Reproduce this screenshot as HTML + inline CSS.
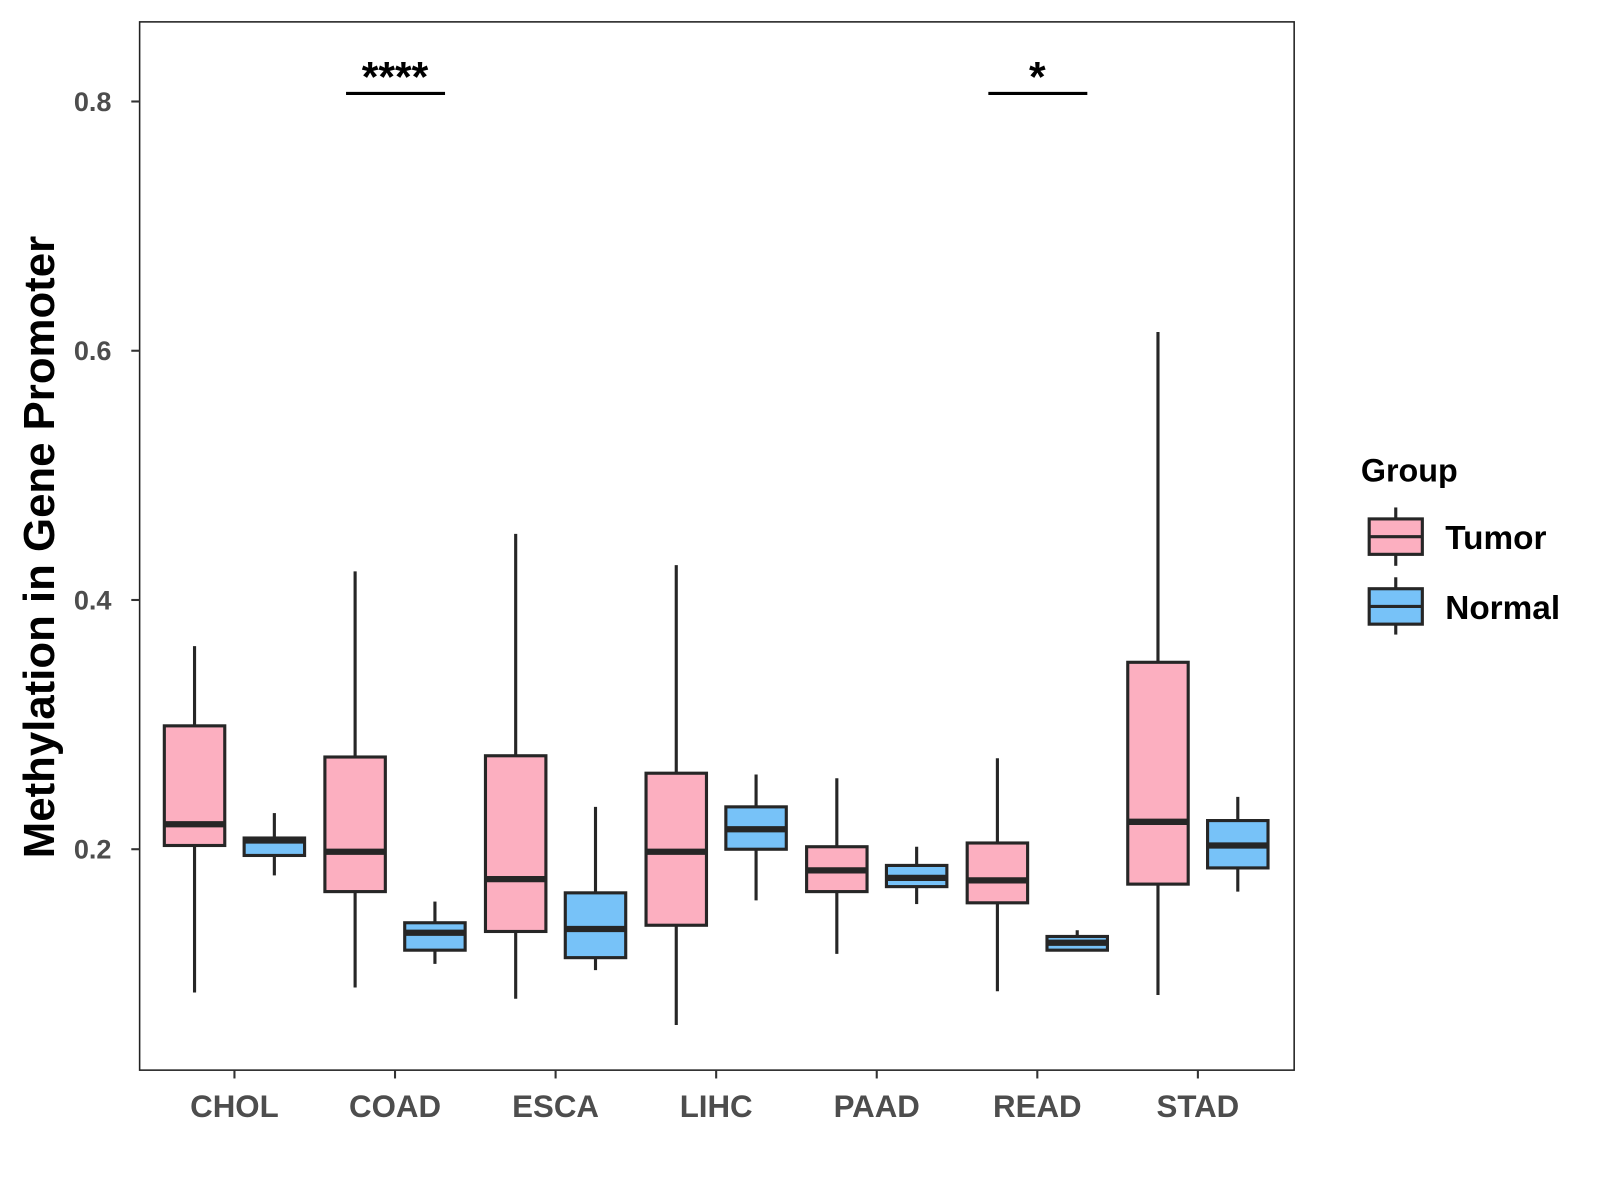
<!DOCTYPE html>
<html><head><meta charset="utf-8"><style>
html,body{margin:0;padding:0;background:#fff;width:1600px;height:1200px;overflow:hidden}
text{font-family:"Liberation Sans",Arial,sans-serif;font-weight:bold}
</style></head><body>
<svg id="chart" width="1600" height="1200" xmlns="http://www.w3.org/2000/svg">
<rect width="1600" height="1200" fill="#fff"/>
<g transform="scale(1.042)">
<g id="plot"></g>
<text transform="translate(52,525) rotate(-90)" text-anchor="middle" font-size="42" fill="#000">Methylation in Gene Promoter</text>
<g>
<text x="1306" y="462" font-size="31" fill="#000">Group</text>
<g>
<line x1="1339.5" x2="1339.5" y1="487" y2="543" stroke="#262626" stroke-width="3"/>
<rect x="1314" y="498" width="51" height="34" fill="#FCAFC0" stroke="#262626" stroke-width="3"/>
<line x1="1314" x2="1365" y1="515" y2="515" stroke="#262626" stroke-width="3"/>
<text x="1387" y="527" font-size="32" fill="#000">Tumor</text>
</g>
<g>
<line x1="1339.5" x2="1339.5" y1="554" y2="609" stroke="#262626" stroke-width="3"/>
<rect x="1314" y="565" width="51" height="34" fill="#77C2F8" stroke="#262626" stroke-width="3"/>
<line x1="1314" x2="1365" y1="582" y2="582" stroke="#262626" stroke-width="3"/>
<text x="1387" y="594" font-size="32" fill="#000">Normal</text>
</g>
</g>
</g>
</svg>
<script>
const categories=["CHOL","COAD","ESCA","LIHC","PAAD","READ","STAD"];
// [low, q1, median, q3, high]
const tumorStats=[[0.085,0.203,0.220,0.299,0.363],[0.089,0.166,0.198,0.274,0.423],[0.080,0.134,0.176,0.275,0.453],[0.059,0.139,0.198,0.261,0.428],[0.116,0.166,0.183,0.202,0.257],[0.086,0.157,0.175,0.205,0.273],[0.083,0.172,0.222,0.350,0.615]];
const normalStats=[[0.179,0.195,0.207,0.209,0.229],[0.108,0.119,0.133,0.141,0.158],[0.103,0.113,0.136,0.165,0.234],[0.159,0.200,0.216,0.234,0.260],[0.156,0.170,0.177,0.187,0.202],[0.119,0.119,0.125,0.130,0.135],[0.166,0.185,0.203,0.223,0.242]];
const yTicks=[0.2,0.4,0.6,0.8];
const yTickLabels=["0.2","0.4","0.6","0.8"];
const sigCategories=["COAD","READ"];
const sigLabels=["****","*"];
const sigLevel=0.8065;

const NS="http://www.w3.org/2000/svg";
const g=document.getElementById('plot');
const L=134,R=1242,T=21,B=1027;
function y(v){return 815-(v-0.2)*1196;}
function x(i){return 225+i*154.1;}
function el(tag,attrs,parent){const e=document.createElementNS(NS,tag);for(const k in attrs)e.setAttribute(k,attrs[k]);(parent||g).appendChild(e);return e;}
const stroke="#262626";
el('rect',{x:L,y:T,width:R-L,height:B-T,fill:'none',stroke:'#222','stroke-width':1.5});

yTicks.forEach((t,i)=>{
  const tk=el('line',{x1:L-8,x2:L,y1:y(t),y2:y(t),stroke:'#333','stroke-width':2});
  
  
  const lb=el('text',{x:L-27,y:y(t)+9,'text-anchor':'end','font-size':26,fill:'#4d4d4d'});
  lb.textContent=yTickLabels[i];
  
  
});
categories.forEach((c,i)=>{
  const tk=el('line',{x1:x(i),x2:x(i),y1:B,y2:B+8,stroke:'#333','stroke-width':2});
  
  
  const lb=el('text',{x:x(i),y:B+45,'text-anchor':'middle','font-size':30,fill:'#4d4d4d'});
  lb.textContent=c;
  
  
});

function box(cx,s,fill,name){
  const grp=el('g',{});
  
  
  el('line',{x1:cx,x2:cx,y1:y(s[0]),y2:y(s[4]),stroke:stroke,'stroke-width':3},grp);
  el('rect',{x:cx-29,y:y(s[3]),width:58,height:Math.max(y(s[1])-y(s[3]),1),fill:fill,stroke:stroke,'stroke-width':3},grp);
  el('line',{x1:cx-29,x2:cx+29,y1:y(s[2]),y2:y(s[2]),stroke:stroke,'stroke-width':6},grp);
}
categories.forEach((c,i)=>{
  box(x(i)-38.3,tumorStats[i],'#FCAFC0','box-tumor-'+c.toLowerCase());
  box(x(i)+38.3,normalStats[i],'#77C2F8','box-normal-'+c.toLowerCase());
});
sigCategories.forEach((c,k)=>{
  const i=categories.indexOf(c);
  const ln=el('line',{x1:x(i)-47,x2:x(i)+48,y1:y(sigLevel),y2:y(sigLevel),stroke:'#000','stroke-width':3});
  
  
  const t=el('text',{x:x(i),y:y(sigLevel)-2,'text-anchor':'middle','font-size':41,fill:'#000'});
  t.textContent=sigLabels[k];
  
  
});
</script>
</body></html>
